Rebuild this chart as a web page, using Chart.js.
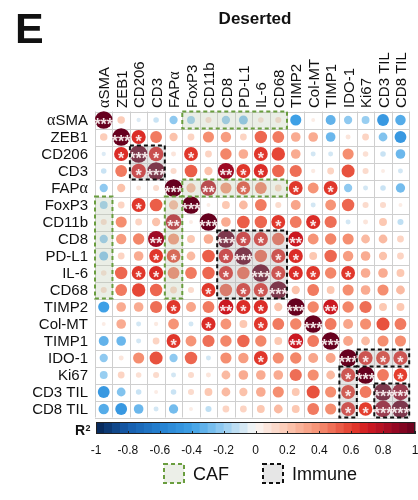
<!DOCTYPE html>
<html>
<head>
<meta charset="UTF-8">
<title>Deserted</title>
<script src="https://cdn.jsdelivr.net/npm/chart.js"></script>
<style>
  html, body { margin: 0; padding: 0; background: #fff; }
  canvas { display: block; }
</style>
</head>
<body>
<canvas id="corrChart" width="418" height="500"></canvas>
<script>
// variables, same order for rows and columns
const markers = ['αSMA', 'ZEB1', 'CD206', 'CD3', 'FAPα', 'FoxP3', 'CD11b', 'CD8', 'PD-L1',
  'IL-6', 'CD68', 'TIMP2', 'Col-MT', 'TIMP1', 'IDO-1', 'Ki67', 'CD3 TIL', 'CD8 TIL'];

// lower triangle of the correlation matrix (row i -> columns 0..i)
const corrRows = [
  [1],
  [0.18, 1],
  [-0.06, 0.65, 1],
  [-0.1, 0.45, 0.68, 1],
  [-0.22, 0.22, 0.08, 0.12, 1],
  [-0.2, 0.15, 0.62, 0.52, 0.28, 1],
  [0.12, 0.4, 0.15, 0.22, 0.78, 0.05, 1],
  [-0.22, 0.35, 0.42, 0.85, 0.4, 0.2, 0.3, 1],
  [-0.26, 0.15, 0.3, 0.62, 0.6, 0.25, 0.52, 0.68, 1],
  [0.1, 0.5, 0.62, 0.65, 0.45, 0.45, 0.5, 0.65, 0.5, 1],
  [0.12, 0.45, 0.58, 0.5, 0.15, 0.12, 0.62, 0.5, 0.65, 0.65, 1],
  [-0.4, 0.3, 0.3, 0.48, 0.62, 0.32, 0.45, 0.72, 0.65, 0.65, 0.22, 1],
  [0.05, 0.3, -0.08, 0.06, 0.38, -0.08, 0.65, 0.38, 0.2, 0.62, 0.45, 0.42, 1],
  [-0.32, -0.3, -0.08, 0.15, 0.62, 0.38, 0.48, 0.42, 0.5, 0.42, 0.2, 0.72, 0.45, 1],
  [-0.22, 0.08, 0.4, 0.55, -0.22, 0.5, -0.08, 0.4, 0.35, 0.62, 0.4, 0.42, 0.32, 0.32, 1],
  [-0.2, 0.15, 0.1, 0.12, -0.08, 0.12, 0.08, 0.25, 0.3, 0.3, 0.3, 0.48, 0.4, 0.25, 0.65, 1],
  [-0.45, -0.25, -0.1, 0.05, -0.1, 0.12, 0.2, 0.25, 0.22, 0.3, 0.4, 0.2, 0.55, 0.4, 0.62, 0.45, 1],
  [-0.35, -0.45, -0.3, -0.08, -0.28, 0.05, -0.12, 0.15, 0.15, 0.2, 0.25, 0.2, 0.45, 0.4, 0.65, 0.6, 0.88, 1]
];

// significance marks for off-diagonal cells [row, col, mark]; diagonal is ***
const sigMarks = [
  [2, 1, '*'], [3, 2, '*'], [5, 2, '*'], [6, 4, '**'], [7, 3, '**'],
  [8, 3, '*'], [8, 4, '*'], [8, 7, '*'],
  [9, 2, '*'], [9, 3, '*'], [9, 7, '*'],
  [10, 6, '*'], [10, 8, '*'], [10, 9, '*'],
  [11, 4, '*'], [11, 7, '**'], [11, 8, '*'], [11, 9, '*'],
  [12, 6, '*'], [12, 9, '*'], [13, 4, '*'], [13, 11, '**'],
  [14, 9, '*'], [15, 14, '*'], [16, 14, '*'],
  [17, 14, '*'], [17, 15, '*'], [17, 16, '***']
];

const colorbarTicks = [-1, -0.8, -0.6, -0.4, -0.2, 0, 0.2, 0.4, 0.6, 0.8, 1];

// highlighted blocks [firstRow, firstCol, lastRow, lastCol]
const cafBoxes = [[0, 5, 0, 10], [4, 5, 4, 10], [5, 0, 10, 0], [5, 4, 10, 4]];
const immuneBoxes = [[2, 2, 3, 3], [7, 7, 10, 10], [14, 15, 14, 17], [15, 14, 17, 14], [16, 16, 17, 17]];

// diverging palette
const colorStops = [
  [-1, [6, 36, 82]], [-0.8, [22, 92, 172]], [-0.6, [36, 128, 208]], [-0.4, [62, 160, 230]],
  [-0.2, [152, 206, 241]], [0, [250, 248, 246]], [0.2, [252, 200, 178]], [0.4, [245, 142, 112]],
  [0.6, [228, 62, 46]], [0.7, [210, 26, 32]], [0.85, [158, 10, 36]], [1, [102, 0, 30]]
];

function rgbFor(v) {
  for (let k = 1; k < colorStops.length; k++) {
    const [v1, c1] = colorStops[k];
    const [v0, c0] = colorStops[k - 1];
    if (v <= v1) {
      const t = (v - v0) / (v1 - v0);
      return c0.map((c, n) => Math.round(c + (c1[n] - c) * t));
    }
  }
  return colorStops[colorStops.length - 1][1];
}
const colorFor = v => 'rgb(' + rgbFor(v).join(',') + ')';
const radiusFor = v => 8.8 * Math.sqrt(Math.abs(v));

const cellValue = (i, j) => i >= j ? corrRows[i][j] : corrRows[j][i];
const marks = {};
sigMarks.forEach(([r, c, m]) => { marks[r + ',' + c] = m; marks[c + ',' + r] = m; });
markers.forEach((m, i) => { marks[i + ',' + i] = '***'; });

const points = [];
markers.forEach((rowName, i) => {
  markers.forEach((colName, j) => {
    points.push({ x: j, y: i, v: cellValue(i, j) });
  });
});

const SANS = '"Liberation Sans", Arial, sans-serif';

function drawMixed(ctx, text, x, y, size, align) {
  const parts = text.split(/(α)/).filter(Boolean);
  const fontFor = p => p === 'α' ? (size + 1) + 'px "Liberation Serif", serif' : size + 'px ' + SANS;
  let total = 0;
  const widths = parts.map(p => { ctx.font = fontFor(p); const w = ctx.measureText(p).width; total += w; return w; });
  let cx = align === 'right' ? x - total : x;
  ctx.textAlign = 'left';
  parts.forEach((p, k) => { ctx.font = fontFor(p); ctx.fillText(p, cx, y); cx += widths[k]; });
}

const corrPlugin = {
  id: 'corrDecor',
  beforeDatasetsDraw(chart) {
    const { ctx, scales: { x, y } } = chart;
    ctx.save();
    ctx.strokeStyle = '#cfcfcf';
    ctx.lineWidth = 1;
    for (let k = 0; k <= markers.length; k++) {
      const px = Math.round(x.getPixelForValue(k - 0.5)) + 0.5;
      const py = Math.round(y.getPixelForValue(k - 0.5)) + 0.5;
      ctx.beginPath();
      ctx.moveTo(px, y.getPixelForValue(-0.5)); ctx.lineTo(px, y.getPixelForValue(17.5));
      ctx.moveTo(x.getPixelForValue(-0.5), py); ctx.lineTo(x.getPixelForValue(17.5), py);
      ctx.stroke();
    }
    ctx.restore();
  },
  afterDatasetsDraw(chart) {
    const { ctx, scales: { x, y } } = chart;
    const boxRect = b => {
      const x0 = x.getPixelForValue(b[1] - 0.5), x1 = x.getPixelForValue(b[3] + 0.5);
      const y0 = y.getPixelForValue(b[0] - 0.5), y1 = y.getPixelForValue(b[2] + 0.5);
      return [x0, y0, x1 - x0, y1 - y0];
    };
    ctx.save();
    // translucent fills over highlighted blocks
    ctx.fillStyle = 'rgba(190,202,178,0.32)';
    cafBoxes.forEach(b => ctx.fillRect(...boxRect(b)));
    ctx.fillStyle = 'rgba(175,175,175,0.32)';
    immuneBoxes.forEach(b => ctx.fillRect(...boxRect(b)));

    // significance stars
    ctx.fillStyle = 'rgba(250,240,240,0.95)';
    ctx.font = 'bold 16px ' + SANS;
    ctx.textAlign = 'center';
    ctx.textBaseline = 'alphabetic';
    points.forEach(p => {
      const m = marks[p.y + ',' + p.x];
      if (m) ctx.fillText(m, x.getPixelForValue(p.x), y.getPixelForValue(p.y) + 9.5);
    });

    // dashed outlines
    ctx.lineWidth = 2;
    ctx.setLineDash([4, 3]);
    ctx.strokeStyle = '#6a9e3f';
    cafBoxes.forEach(b => ctx.strokeRect(...boxRect(b)));
    ctx.strokeStyle = '#111';
    immuneBoxes.forEach(b => ctx.strokeRect(...boxRect(b)));
    ctx.setLineDash([]);

    // axis labels
    ctx.fillStyle = '#111';
    markers.forEach((name, i) => {
      drawMixed(ctx, name, 88, y.getPixelForValue(i) + 5.4, 15, 'right');
      ctx.save();
      ctx.translate(x.getPixelForValue(i) + 5.6, 108);
      ctx.rotate(-Math.PI / 2);
      drawMixed(ctx, name, 0, 0, 15, 'left');
      ctx.restore();
    });

    // panel letter and title
    ctx.textAlign = 'left';
    ctx.font = 'bold 43px ' + SANS;
    ctx.fillText('E', 15, 43);
    ctx.textAlign = 'center';
    ctx.font = 'bold 17px ' + SANS;
    ctx.fillText('Deserted', 255, 24);

    // colour bar
    const bx0 = 96, bx1 = 415, by0 = 422, by1 = 434;
    const steps = 40;
    for (let s = 0; s < steps; s++) {
      const v = -1 + (s + 0.5) * 2 / steps;
      ctx.fillStyle = colorFor(v);
      const xa = bx0 + (bx1 - bx0) * s / steps;
      ctx.fillRect(xa, by0, (bx1 - bx0) / steps + 0.5, by1 - by0);
    }
    ctx.strokeStyle = '#222';
    ctx.lineWidth = 1;
    ctx.strokeRect(bx0 + 0.5, by0 + 0.5, bx1 - bx0 - 1, by1 - by0 - 1);
    ctx.fillStyle = '#111';
    ctx.font = '12px ' + SANS;
    colorbarTicks.forEach(t => {
      const tx = bx0 + (bx1 - bx0) * (t + 1) / 2;
      ctx.beginPath();
      ctx.moveTo(Math.round(tx) + 0.5, by1 - 3); ctx.lineTo(Math.round(tx) + 0.5, by1);
      ctx.stroke();
      ctx.fillText(String(t), tx, 454);
    });
    ctx.textAlign = 'left';
    ctx.font = 'bold 14px ' + SANS;
    ctx.fillText('R', 75, 435);
    ctx.font = 'bold 9px ' + SANS;
    ctx.fillText('2', 85.5, 431);

    // legend
    const legend = [
      { label: 'CAF', x: 164, fill: 'rgb(236,239,232)', stroke: '#6a9e3f' },
      { label: 'Immune', x: 263, fill: 'rgb(230,230,230)', stroke: '#111' }
    ];
    legend.forEach(item => {
      ctx.fillStyle = item.fill;
      ctx.fillRect(item.x, 464, 20, 19);
      ctx.strokeStyle = item.stroke;
      ctx.lineWidth = 2;
      ctx.setLineDash([4, 3]);
      ctx.strokeRect(item.x, 464, 20, 19);
      ctx.setLineDash([]);
      ctx.fillStyle = '#111';
      ctx.font = '18px ' + SANS;
      ctx.fillText(item.label, item.x + 29, 480);
    });
    ctx.restore();
  }
};

new Chart(document.getElementById('corrChart'), {
  type: 'scatter',
  data: {
    datasets: [{
      data: points,
      clip: false,
      pointRadius: ctx => ctx.raw ? radiusFor(ctx.raw.v) : 3,
      pointHoverRadius: ctx => ctx.raw ? radiusFor(ctx.raw.v) : 3,
      pointBackgroundColor: ctx => ctx.raw ? colorFor(ctx.raw.v) : '#999',
      pointBorderWidth: 0,
      pointBorderColor: 'rgba(0,0,0,0)'
    }]
  },
  options: {
    responsive: false,
    animation: false,
    layout: { padding: { left: 95, top: 111.5, right: 2.6, bottom: 82.5 } },
    scales: {
      x: { type: 'linear', min: -0.5, max: 17.5, display: false },
      y: { type: 'linear', min: -0.5, max: 17.5, reverse: true, display: false }
    },
    plugins: { legend: { display: false }, tooltip: { enabled: false } },
    events: []
  },
  plugins: [corrPlugin]
});
</script>
</body>
</html>
